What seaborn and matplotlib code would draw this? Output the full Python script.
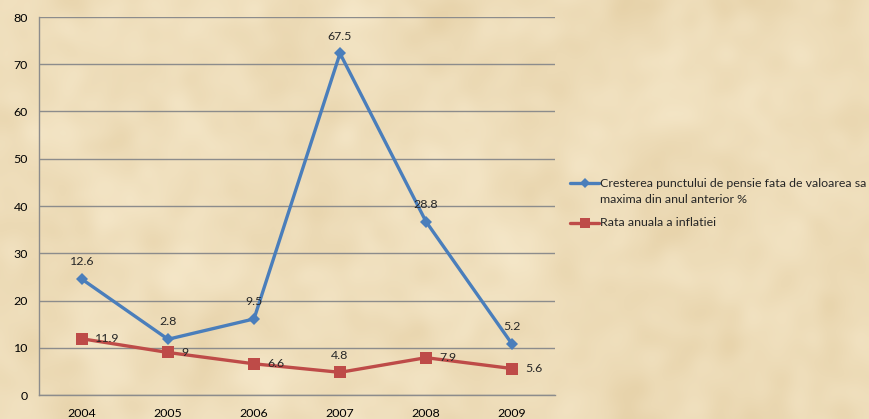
import numpy as np
import pandas as pd
import matplotlib
matplotlib.use("Agg")
import matplotlib.pyplot as plt
from matplotlib.lines import Line2D
import seaborn as sns

# Data
years = ["2004", "2005", "2006", "2007", "2008", "2009"]
pension_growth = [12.6, 2.8, 9.5, 67.5, 28.8, 5.2]
inflation = [11.9, 9, 6.6, 4.8, 7.9, 5.6]
series_names = [
    "Cresterea punctului de pensie fata de valoarea sa\nmaxima din anul anterior %",
    "Rata anuala a inflatiei",
]
y_ticks = [0, 10, 20, 30, 40, 50, 60, 70, 80]

BLUE = "#4A7EBB"
RED = "#BE4B48"
GRID = "#8C8C8C"
BG = "#EBDAB5"
FS = 8.9

sns.set_theme(style="white")
plt.rcParams["font.family"] = ["Lato", "DejaVu Sans"]

# Stacked line layout: the pension series sits on top of the inflation series
stack_top = [g + i for g, i in zip(pension_growth, inflation)]
x = np.arange(len(years))
df = pd.DataFrame({
    "x": np.concatenate([x, x]),
    "value": inflation + stack_top,
    "series": [series_names[1]] * len(years) + [series_names[0]] * len(years),
})

W, H = 869, 419
fig = plt.figure(figsize=(W / 100, H / 100), dpi=100)
fig.patch.set_facecolor(BG)

# mottled parchment texture behind everything
rng = np.random.default_rng(7)
ny, nx = 140, 290
noise = rng.normal(size=(ny, nx))
ky = np.fft.fftfreq(ny)[:, None]
kx = np.fft.fftfreq(nx)[None, :]
k2 = kx**2 + ky**2
smooth = np.real(np.fft.ifft2(np.fft.fft2(noise) * (np.exp(-k2 * 1500) + 0.35 * np.exp(-k2 * 150))))
smooth = (smooth - smooth.min()) / (smooth.max() - smooth.min())
dark = np.array([0.905, 0.825, 0.665])
light = np.array([0.960, 0.905, 0.785])
tex = dark[None, None, :] * (1 - smooth[..., None]) + light[None, None, :] * smooth[..., None]
bg_ax = fig.add_axes([0, 0, 1, 1], zorder=-10)
bg_ax.imshow(tex, aspect="auto", interpolation="bicubic", extent=[0, 1, 0, 1])
bg_ax.axis("off")

ax = fig.add_axes([39 / W, 1 - 395 / H, (555 - 39) / W, (395 - 17) / H])
ax.set_facecolor("none")

sns.lineplot(
    data=df, x="x", y="value", hue="series", style="series",
    hue_order=series_names, style_order=series_names,
    palette=[BLUE, RED], markers=["D", "s"], dashes=False,
    linewidth=2.4, markersize=7, markeredgewidth=0, legend=False, ax=ax,
)
for line in ax.get_lines():
    if line.get_marker() == "s":
        line.set_markersize(8)
    if line.get_marker() == "D":
        line.set_markersize(6.5)

ax.set_xlim(-0.5, len(years) - 0.5)
ax.set_ylim(0, 80)
ax.set_yticks(y_ticks)
ax.set_yticklabels([str(t) for t in y_ticks])
ax.set_xticks(x)
ax.set_xticklabels(years)
ax.set_xticks(np.arange(-0.5, len(years)), minor=True)
ax.tick_params(axis="x", which="major", length=0, pad=9, labelsize=FS, colors="black")
ax.tick_params(axis="x", which="minor", length=5, width=1, color=GRID, direction="out")
ax.tick_params(axis="y", which="major", length=4, width=1, color=GRID, direction="out",
               pad=4, labelsize=FS, labelcolor="black")
ax.set_xlabel("")
ax.set_ylabel("")
ax.yaxis.grid(True, color=GRID, linewidth=1)
ax.set_axisbelow(True)
for side in ["top", "right"]:
    ax.spines[side].set_visible(False)
for side in ["left", "bottom"]:
    ax.spines[side].set_color(GRID)
    ax.spines[side].set_linewidth(1)

# Data labels
for xi, top, g in zip(x, stack_top, pension_growth):
    ax.annotate(f"{g:g}", (xi, top), xytext=(0, 8.5), textcoords="offset points",
                ha="center", va="bottom", fontsize=FS)
for xi, v in zip(x, inflation):
    if years[xi] == "2007":
        ax.annotate(f"{v:g}", (xi, v), xytext=(0, 8.5), textcoords="offset points",
                    ha="center", va="bottom", fontsize=FS)
    else:
        ax.annotate(f"{v:g}", (xi, v), xytext=(9.5, 0), textcoords="offset points",
                    ha="left", va="center", fontsize=FS)

# Legend: handle aligned with the first text line of each entry
legend_rows = [(183, 183, BLUE, "D", 5), (223, 223, RED, "s", 6.5)]
for (y_handle, y_text, color, marker, ms), label in zip(legend_rows, series_names):
    fy = 1 - y_handle / H
    fig.add_artist(Line2D([570 / W, 599 / W], [fy, fy], transform=fig.transFigure,
                          color=color, linewidth=2.4))
    fig.add_artist(Line2D([584.5 / W], [fy], transform=fig.transFigure, color=color,
                          marker=marker, markersize=ms, markeredgewidth=0, linestyle="none"))
    first, *rest = label.split("\n")
    fig.text(600 / W, 1 - y_text / H, first, ha="left", va="center", fontsize=FS)
    for k, line_text in enumerate(rest, start=1):
        fig.text(600 / W, 1 - (y_text + 16 * k) / H, line_text, ha="left", va="center",
                 fontsize=FS)

fig.savefig("out.png", dpi=100, facecolor=BG)
